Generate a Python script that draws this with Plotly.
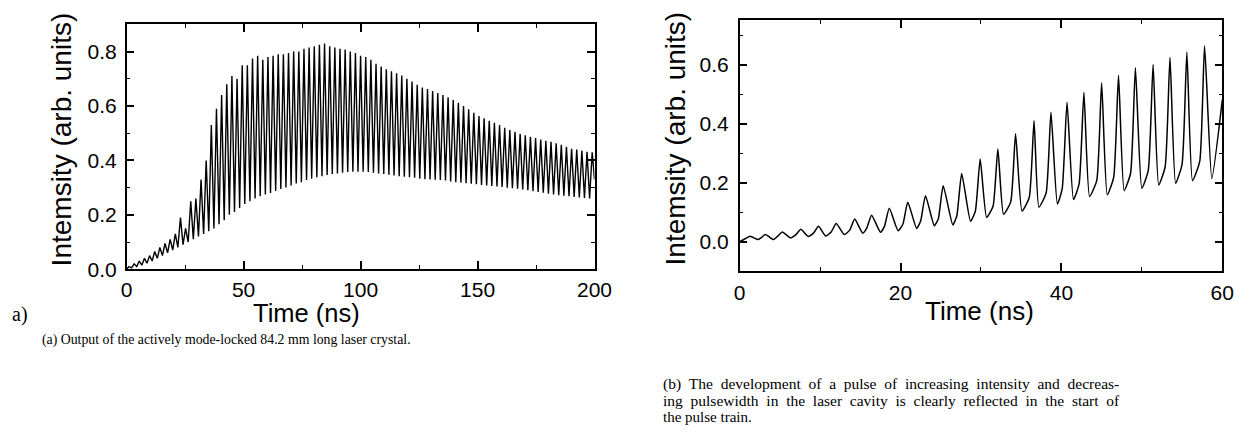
import plotly.graph_objects as go

# ---------------- panel (a): full pulse train, 0-200 ns ----------------
# pulse peak times (ns) and peak intensities
PEAK_T_A = [1.0, 3.2, 5.4, 7.6, 9.8, 12.0, 14.2, 16.4, 18.6, 20.8,
            23.0, 25.2, 27.4, 29.6, 31.8, 34.0, 36.2, 38.4, 40.6, 42.8,
            45.0, 47.2, 49.4, 51.6, 53.8, 56.0, 58.2, 60.4, 62.6, 64.8,
            67.0, 69.2, 71.4, 73.6, 75.8, 78.0, 80.2, 82.4, 84.6, 86.8,
            89.0, 91.2, 93.4, 95.6, 97.8, 100.0, 102.2, 104.4, 106.6, 108.8,
            111.0, 113.2, 115.4, 117.6, 119.8, 122.0, 124.2, 126.4, 128.6, 130.8,
            133.0, 135.2, 137.4, 139.6, 141.8, 144.0, 146.2, 148.4, 150.6, 152.8,
            155.0, 157.2, 159.4, 161.6, 163.8, 166.0, 168.2, 170.4, 172.6, 174.8,
            177.0, 179.2, 181.4, 183.6, 185.8, 188.0, 190.2, 192.4, 194.6, 196.8,
            199.0]
PEAK_V_A = [0.010, 0.020, 0.030, 0.040, 0.050, 0.065, 0.080, 0.095, 0.110, 0.130,
            0.190, 0.150, 0.250, 0.260, 0.330, 0.400, 0.530, 0.590, 0.640, 0.680,
            0.710, 0.700, 0.750, 0.750, 0.775, 0.785, 0.770, 0.780, 0.785, 0.790,
            0.790, 0.795, 0.800, 0.800, 0.810, 0.815, 0.820, 0.825, 0.830, 0.820,
            0.815, 0.810, 0.808, 0.800, 0.795, 0.785, 0.780, 0.770, 0.755, 0.745,
            0.735, 0.728, 0.720, 0.712, 0.700, 0.690, 0.678, 0.668, 0.662, 0.655,
            0.648, 0.640, 0.632, 0.622, 0.612, 0.600, 0.588, 0.575, 0.563, 0.555,
            0.546, 0.538, 0.530, 0.520, 0.512, 0.505, 0.498, 0.492, 0.487, 0.482,
            0.477, 0.472, 0.468, 0.463, 0.457, 0.450, 0.443, 0.440, 0.436, 0.432,
            0.430]
# troughs between consecutive pulses
TROUGH_T_A = [0.0, 2.1, 4.3, 6.5, 8.7, 10.9, 13.1, 15.3, 17.5, 19.7,
              21.9, 24.1, 26.3, 28.5, 30.7, 32.9, 35.1, 37.3, 39.5, 41.7,
              43.9, 46.1, 48.3, 50.5, 52.7, 54.9, 57.1, 59.3, 61.5, 63.7,
              65.9, 68.1, 70.3, 72.5, 74.7, 76.9, 79.1, 81.3, 83.5, 85.7,
              87.9, 90.1, 92.3, 94.5, 96.7, 98.9, 101.1, 103.3, 105.5, 107.7,
              109.9, 112.1, 114.3, 116.5, 118.7, 120.9, 123.1, 125.3, 127.5, 129.7,
              131.9, 134.1, 136.3, 138.5, 140.7, 142.9, 145.1, 147.3, 149.5, 151.7,
              153.9, 156.1, 158.3, 160.5, 162.7, 164.9, 167.1, 169.3, 171.5, 173.7,
              175.9, 178.1, 180.3, 182.5, 184.7, 186.9, 189.1, 191.3, 193.5, 195.7,
              197.9, 200.0]
TROUGH_V_A = [0.000, 0.005, 0.010, 0.015, 0.022, 0.030, 0.040, 0.050, 0.060, 0.070,
              0.080, 0.090, 0.100, 0.110, 0.120, 0.130, 0.140, 0.150, 0.165, 0.180,
              0.200, 0.210, 0.225, 0.240, 0.250, 0.260, 0.268, 0.275, 0.280, 0.288,
              0.295, 0.300, 0.308, 0.315, 0.320, 0.328, 0.333, 0.338, 0.342, 0.346,
              0.350, 0.352, 0.355, 0.357, 0.358, 0.358, 0.358, 0.357, 0.355, 0.352,
              0.350, 0.347, 0.345, 0.342, 0.340, 0.338, 0.336, 0.333, 0.331, 0.330,
              0.329, 0.328, 0.326, 0.323, 0.320, 0.318, 0.316, 0.314, 0.312, 0.310,
              0.308, 0.306, 0.304, 0.302, 0.300, 0.298, 0.296, 0.293, 0.290, 0.287,
              0.284, 0.281, 0.278, 0.275, 0.272, 0.270, 0.268, 0.266, 0.264, 0.262,
              0.260, 0.330]

# ---------------- panel (b): start of the pulse train, 0-60 ns ----------------
PEAK_T_B = [1.3, 3.2, 5.3, 7.6, 9.8, 12.0, 14.3, 16.4, 18.6, 20.9,
            23.1, 25.3, 27.6, 29.9, 32.1, 34.3, 36.6, 38.7, 40.7, 42.8,
            45.0, 47.1, 49.2, 51.4, 53.5, 55.6, 57.8]
PEAK_V_B = [0.018, 0.024, 0.033, 0.042, 0.052, 0.062, 0.077, 0.090, 0.113, 0.134,
            0.156, 0.190, 0.231, 0.280, 0.314, 0.366, 0.410, 0.439, 0.473, 0.506,
            0.538, 0.564, 0.590, 0.601, 0.625, 0.642, 0.664]
# onset of the steep leading edge of each pulse
FOOT_T_B = [0.7, 2.6, 4.7, 7.0, 9.2, 11.4, 13.7, 15.8, 18.0, 20.3,
            22.5, 24.7, 27.0, 29.3, 31.5, 33.7, 36.0, 38.1, 40.1, 42.2,
            44.4, 46.5, 48.6, 50.8, 52.9, 55.0, 57.2]
FOOT_V_B = [0.010, 0.012, 0.018, 0.024, 0.030, 0.034, 0.040, 0.046, 0.052, 0.060,
            0.070, 0.078, 0.088, 0.103, 0.120, 0.135, 0.150, 0.165, 0.180, 0.196,
            0.208, 0.218, 0.232, 0.242, 0.254, 0.262, 0.272]
TROUGH_T_B = [0.0, 2.3, 4.2, 6.3, 8.5, 10.7, 13.0, 15.3, 17.5, 19.7,
              22.0, 24.2, 26.5, 28.7, 30.7, 32.8, 35.1, 37.2, 39.5, 41.5,
              43.5, 45.7, 47.8, 50.0, 52.1, 54.2, 56.3, 58.7, 60.0]
TROUGH_V_B = [0.000, 0.007, 0.007, 0.013, 0.018, 0.019, 0.024, 0.029, 0.032, 0.037,
              0.045, 0.054, 0.057, 0.069, 0.082, 0.093, 0.104, 0.117, 0.128, 0.143,
              0.153, 0.159, 0.173, 0.181, 0.192, 0.198, 0.207, 0.214, 0.480]

Y_TITLE = "Intemsity (arb. units)"
X_TITLE = "Time (ns)"
CAPTION_A = "(a) Output of the actively mode-locked 84.2 mm long laser crystal."
CAPTION_B = ["(b) The development of a pulse of increasing intensity and decreas-",
             "ing pulsewidth in the laser cavity is clearly reflected in the start of",
             "the pulse train."]


def merge(*series):
    """Interleave (times, values) pairs into one time-ordered trace."""
    pts = []
    for t, v in series:
        pts += list(zip(t, v))
    pts.sort(key=lambda p: p[0])
    return [p[0] for p in pts], [p[1] for p in pts]


def justify(line):
    """Widen word gaps (non-breaking spaces survive SVG whitespace collapsing)."""
    return "\u00a0\u00a0".join(line.split(" "))


xa, ya = merge((TROUGH_T_A, TROUGH_V_A), (PEAK_T_A, PEAK_V_A))
xb, yb = merge((TROUGH_T_B, TROUGH_V_B), (FOOT_T_B, FOOT_V_B), (PEAK_T_B, PEAK_V_B))

W, H = 1254, 448
SANS = "Liberation Sans, Arial, sans-serif"
SERIF = "Liberation Serif, Times New Roman, serif"


def px(x):
    return x / W


def py(y):
    return 1 - y / H


fig = go.Figure()
fig.add_trace(go.Scatter(x=xa, y=ya, mode="lines", xaxis="x", yaxis="y",
                         line=dict(color="black", width=1.4), showlegend=False,
                         hoverinfo="skip"))
fig.add_trace(go.Scatter(x=xb, y=yb, mode="lines", xaxis="x2", yaxis="y2",
                         line=dict(color="black", width=1.5, shape="spline",
                                   smoothing=0.5),
                         showlegend=False, hoverinfo="skip"))

axis_common = dict(showline=True, linecolor="black", linewidth=1.5, mirror="allticks",
                   ticks="inside", ticklen=8, tickwidth=1.5, tickcolor="black",
                   showgrid=False, zeroline=False,
                   tickfont=dict(family=SANS, size=21, color="black"))


def minor(step):
    return dict(ticks="inside", ticklen=4, tickwidth=1.2, tickcolor="black",
                dtick=step, tick0=0)


fig.update_layout(
    width=W, height=H, margin=dict(l=0, r=0, t=0, b=0),
    paper_bgcolor="white", plot_bgcolor="white",
    xaxis=dict(domain=[px(123), px(600)], anchor="y", range=[0, 200],
               tickvals=[0, 50, 100, 150, 200], ticklabelstandoff=1,
               minor=minor(25), **axis_common),
    yaxis=dict(domain=[py(276), py(25)], anchor="x", range=[0, 0.9],
               tickvals=[0, 0.2, 0.4, 0.6, 0.8], tickformat=".1f",
               ticklabelstandoff=4, minor=minor(0.1), **axis_common),
    xaxis2=dict(domain=[px(748), px(1240)], anchor="y2", range=[0, 60],
                tickvals=[0, 20, 40, 60], ticklabelstandoff=2,
                minor=minor(10), **axis_common),
    yaxis2=dict(domain=[py(278), py(21)], anchor="x2", range=[-0.1, 0.75],
                tickvals=[0, 0.2, 0.4, 0.6], tickformat=".1f",
                ticklabelstandoff=5, minor=minor(0.1), **axis_common),
)

annotations = [
    # axis titles
    dict(x=px(57), y=py(143), text=Y_TITLE, textangle=-90,
         font=dict(family=SANS, size=28, color="black")),
    dict(x=px(683), y=py(142), text=Y_TITLE, textangle=-90,
         font=dict(family=SANS, size=28, color="black")),
    dict(x=px(306), y=py(321), text=X_TITLE,
         font=dict(family=SANS, size=25.5, color="black")),
    dict(x=px(993), y=py(319), text=X_TITLE,
         font=dict(family=SANS, size=26, color="black")),
    # panel tag
    dict(x=px(14), y=py(322), text="a)",
         font=dict(family=SERIF, size=20, color="black")),
    # captions
    dict(x=px(35), y=py(349), text=CAPTION_A, xanchor="left",
         font=dict(family=SERIF, size=13.8, color="black")),
]
for i, line in enumerate(CAPTION_B):
    last = i == len(CAPTION_B) - 1
    annotations.append(dict(x=px(668), y=py(394 + 17 * i),
                            text=line if last else justify(line), xanchor="left",
                            font=dict(family=SERIF, size=15 if last else 15.5,
                                      color="black")))

for a in annotations:
    a.setdefault("xanchor", "center")
    a.update(xref="paper", yref="paper", yanchor="middle", showarrow=False)

fig.update_layout(annotations=annotations)

fig.write_html("out.html")
